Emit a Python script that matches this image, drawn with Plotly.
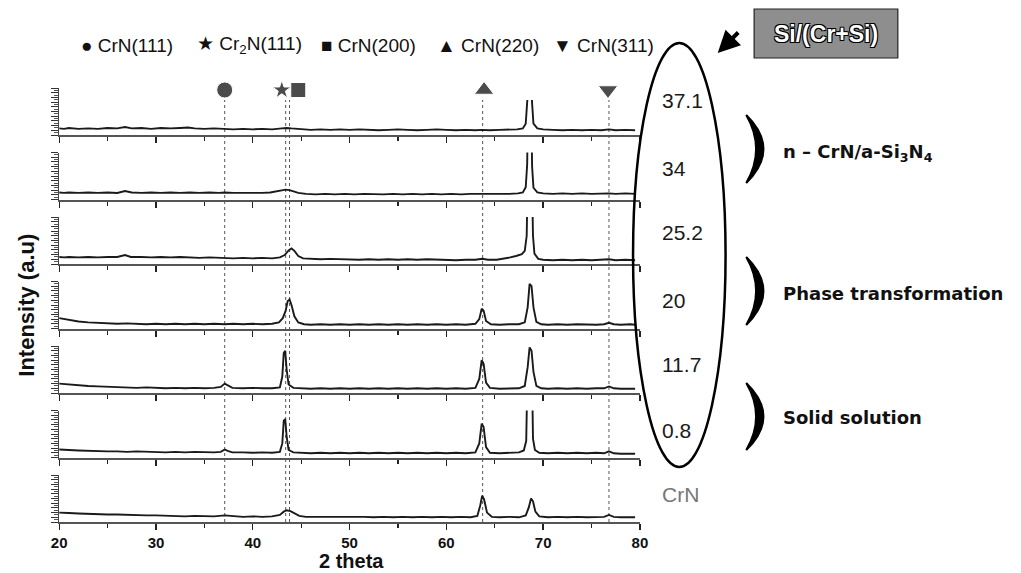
import plotly.graph_objects as go

W, H = 1021, 573

def px(x):
    return x / W

def py(y):
    return 1 - y / H

# ---------------- data ----------------
SAMPLE_LABELS = ["37.1", "34", "25.2", "20", "11.7", "0.8", "CrN"]

P1 = [(20,0.14),(20.5,0.13),(21,0.15),(22,0.13),(23,0.14),(24,0.13),(25,0.15),(26,0.14),(26.8,0.17),(27.5,0.14),
      (28.5,0.15),(29.5,0.13),(30.5,0.15),(31.5,0.14),(32.5,0.15),(33.3,0.16),(34,0.14),(35,0.13),(36,0.14),(37.1,0.13),
      (38,0.12),(39,0.13),(40,0.12),(41,0.13),(42,0.12),(43,0.14),(43.5,0.15),(44,0.14),(45,0.12),(46,0.11),(47,0.12),
      (48,0.11),(49,0.12),(50,0.11),(51,0.12),(52,0.11),(53,0.10),(54,0.11),(55,0.12),(56,0.11),(57,0.10),(58,0.11),
      (59,0.12),(60,0.11),(61,0.10),(62,0.11),(63,0.10),(63.7,0.11),(64.5,0.10),(65.5,0.11),(66.5,0.11),(67.3,0.12),
      (67.9,0.14),(68.2,0.24),(68.35,0.7),(68.42,1.8),(68.78,1.8),(68.85,0.7),(69.0,0.24),(69.4,0.14),(70,0.12),(71,0.11),
      (72,0.10),(73,0.11),(74,0.10),(75,0.11),(76,0.10),(76.8,0.12),(77.5,0.10),(78.5,0.11),(79.5,0.10)]

P2 = [(20,0.15),(20.5,0.14),(21,0.15),(22,0.14),(23,0.15),(24,0.14),(25,0.15),(26,0.14),(26.8,0.18),(27.5,0.15),
      (28.5,0.14),(29.5,0.15),(30.5,0.14),(31.5,0.15),(32.5,0.14),(33.5,0.15),(34.5,0.14),(35.5,0.15),(36.5,0.14),(37.1,0.15),
      (38,0.14),(39,0.14),(40,0.13),(41,0.14),(41.8,0.15),(42.5,0.17),(43.0,0.19),(43.4,0.21),(43.8,0.2),(44.2,0.17),
      (44.7,0.14),(45.5,0.12),(46.5,0.11),(47.5,0.12),(48.5,0.11),(49.5,0.12),(50.5,0.11),(51.5,0.12),(52.5,0.11),(53.5,0.11),
      (54.5,0.12),(55.5,0.11),(56.5,0.12),(57.5,0.11),(58.5,0.12),(59.5,0.11),(60.5,0.12),(61.5,0.11),(62.5,0.12),(63.7,0.12),
      (64.5,0.11),(65.5,0.12),(66.5,0.12),(67.4,0.13),(67.9,0.15),(68.2,0.26),(68.35,0.75),(68.42,1.8),(68.78,1.8),(68.86,0.7),
      (69.0,0.25),(69.4,0.15),(70,0.13),(71,0.12),(72,0.13),(73,0.12),(74,0.13),(75,0.12),(76,0.13),(76.8,0.13),
      (77.5,0.12),(78.5,0.13),(79.5,0.12)]

P3 = [(20,0.15),(20.5,0.14),(21,0.15),(22,0.14),(23,0.15),(24,0.14),(25,0.15),(26,0.15),(26.8,0.19),(27.4,0.15),
      (28.5,0.15),(29.5,0.14),(30.5,0.15),(31.5,0.14),(32.5,0.15),(33.5,0.14),(34.5,0.13),(35.5,0.14),(36.5,0.13),(37.1,0.13),
      (38,0.12),(39,0.13),(40,0.12),(41,0.13),(42,0.12),(42.8,0.14),(43.3,0.19),(43.7,0.29),(44.0,0.33),(44.3,0.28),
      (44.7,0.17),(45.2,0.12),(46,0.11),(47,0.10),(48,0.11),(49,0.10),(50,0.10),(51,0.09),(52,0.10),(53,0.09),
      (54,0.10),(55,0.09),(56,0.10),(57,0.09),(58,0.10),(59,0.09),(60,0.09),(61,0.08),(62,0.09),(63,0.09),
      (63.7,0.11),(64.3,0.09),(65.2,0.09),(66,0.11),(66.6,0.14),(67.2,0.17),(67.8,0.21),(68.1,0.28),(68.3,0.6),(68.4,1.8),
      (68.85,1.8),(68.95,0.6),(69.1,0.22),(69.5,0.11),(70,0.09),(71,0.08),(72,0.09),(73,0.08),(74,0.09),(75,0.08),
      (76,0.09),(76.8,0.10),(77.5,0.08),(78.5,0.09),(79.5,0.08)]

P4 = [(20,0.22),(20.5,0.20),(21,0.18),(21.5,0.17),(22,0.15),(23,0.13),(24,0.12),(25,0.11),(26,0.10),(27,0.11),
      (28,0.10),(29,0.09),(30,0.10),(31,0.09),(32,0.10),(33,0.09),(34,0.10),(35,0.09),(36,0.10),(37.1,0.09),
      (38,0.10),(39,0.09),(40,0.10),(41,0.09),(42,0.10),(42.7,0.13),(43.1,0.22),(43.4,0.38),(43.6,0.58),(43.8,0.62),
      (44.0,0.50),(44.3,0.26),(44.7,0.13),(45.3,0.09),(46,0.08),(47,0.09),(48,0.08),(49,0.09),(50,0.08),(51,0.09),
      (52,0.08),(53,0.09),(54,0.08),(55,0.09),(56,0.08),(57,0.09),(58,0.08),(59,0.09),(60,0.08),(61,0.09),
      (62,0.08),(63,0.10),(63.4,0.20),(63.65,0.42),(63.85,0.38),(64.1,0.16),(64.6,0.09),(65.5,0.08),(66.5,0.09),(67.5,0.09),
      (68.1,0.13),(68.4,0.45),(68.6,0.95),(68.8,0.90),(69.0,0.45),(69.3,0.14),(69.8,0.09),(70.5,0.08),(71.5,0.09),(72.5,0.08),
      (73.5,0.09),(74.5,0.08),(75.5,0.08),(76.3,0.09),(76.8,0.12),(77.3,0.09),(78,0.08),(79,0.09),(79.5,0.08)]

P5 = [(20,0.20),(20.5,0.19),(21,0.18),(22,0.16),(23,0.15),(24,0.14),(25,0.13),(26,0.12),(27,0.12),(28,0.11),
      (29,0.12),(30,0.11),(31,0.10),(32,0.11),(33,0.10),(34,0.11),(35,0.10),(36,0.11),(36.7,0.13),(37.1,0.20),
      (37.4,0.16),(37.9,0.11),(39,0.10),(40,0.11),(41,0.10),(42,0.10),(42.8,0.12),(43.05,0.35),(43.2,0.85),(43.35,0.90),
      (43.5,0.50),(43.7,0.18),(44.2,0.11),(45,0.10),(46,0.09),(47,0.10),(48,0.09),(49,0.10),(50,0.09),(51,0.10),
      (52,0.09),(53,0.10),(54,0.09),(55,0.10),(56,0.09),(57,0.10),(58,0.09),(59,0.10),(60,0.09),(61,0.10),
      (62,0.09),(63,0.11),(63.4,0.30),(63.65,0.70),(63.85,0.62),(64.1,0.22),(64.5,0.11),(65.5,0.09),(66.5,0.10),(67.5,0.10),
      (68.1,0.15),(68.4,0.55),(68.6,0.97),(68.8,0.90),(69.0,0.45),(69.3,0.15),(69.8,0.10),(70.5,0.09),(71.5,0.10),(72.5,0.09),
      (73.5,0.10),(74.5,0.09),(75.5,0.10),(76.3,0.10),(76.8,0.14),(77.3,0.10),(78,0.09),(79,0.10),(79.5,0.09)]

P6 = [(20,0.17),(20.5,0.16),(21,0.16),(22,0.15),(23,0.14),(24,0.14),(25,0.13),(26,0.13),(27,0.12),(28,0.13),
      (29,0.12),(30,0.12),(31,0.11),(32,0.12),(33,0.11),(34,0.12),(35,0.11),(36,0.11),(36.7,0.12),(37.1,0.17),
      (37.4,0.14),(37.9,0.11),(39,0.11),(40,0.10),(41,0.11),(42,0.10),(42.8,0.12),(43.05,0.30),(43.2,0.78),(43.35,0.82),
      (43.5,0.45),(43.7,0.16),(44.2,0.11),(45,0.10),(46,0.09),(47,0.10),(48,0.09),(49,0.10),(50,0.09),(51,0.10),
      (52,0.09),(53,0.10),(54,0.09),(55,0.10),(56,0.09),(57,0.10),(58,0.09),(59,0.10),(60,0.09),(61,0.10),
      (62,0.09),(63,0.11),(63.4,0.30),(63.65,0.72),(63.85,0.65),(64.1,0.22),(64.5,0.10),(65.5,0.09),(66.5,0.10),(67.5,0.11),
      (68.0,0.15),(68.25,0.35),(68.38,1.8),(68.85,1.8),(68.95,0.40),(69.15,0.16),(69.6,0.10),(70.5,0.09),(71.5,0.10),(72.5,0.09),
      (73.5,0.10),(74.5,0.09),(75.5,0.10),(76.3,0.09),(76.8,0.13),(77.3,0.09),(78,0.08),(79,0.09),(79.5,0.08)]

P7 = [(20,0.20),(20.5,0.19),(21,0.19),(22,0.18),(23,0.17),(24,0.17),(25,0.16),(26,0.16),(27,0.15),(28,0.15),
      (29,0.14),(30,0.14),(31,0.13),(32,0.13),(33,0.12),(34,0.13),(35,0.12),(36,0.12),(37.1,0.14),(38,0.12),
      (39,0.11),(40,0.12),(41,0.11),(42,0.12),(42.8,0.15),(43.2,0.22),(43.5,0.25),(43.9,0.23),(44.3,0.18),(44.8,0.13),
      (45.5,0.11),(46.5,0.11),(47.5,0.12),(48.5,0.11),(49.5,0.12),(50.5,0.11),(51.5,0.11),(52.5,0.10),(53.5,0.11),(54.5,0.10),
      (55.5,0.11),(56.5,0.10),(57.5,0.11),(58.5,0.10),(59.5,0.11),(60.5,0.10),(61.5,0.11),(62.5,0.10),(63.2,0.13),(63.5,0.35),
      (63.7,0.56),(63.9,0.48),(64.2,0.20),(64.7,0.11),(65.5,0.10),(66.5,0.11),(67.5,0.10),(68.2,0.14),(68.5,0.30),(68.75,0.50),
      (68.95,0.44),(69.2,0.22),(69.6,0.12),(70.5,0.10),(71.5,0.11),(72.5,0.10),(73.5,0.11),(74.5,0.10),(75.5,0.10),(76.3,0.11),
      (76.8,0.15),(77.3,0.11),(78,0.10),(79,0.11),(79.5,0.10)]

PATTERNS = [P1, P2, P3, P4, P5, P6, P7]

# reference peak positions (2 theta) and markers
PEAK_LINES = [37.1, 43.4, 43.8, 63.75, 76.8]
MARK_X = [37.1, 43.0, 44.7, 63.9, 76.7]
MARK_SYM = ["circle", "star", "square", "triangle-up", "triangle-down"]
MARK_SIZE = [16, 14, 15, 17, 17]

LEGEND_TEXT = ["● CrN(111)", "★ Cr<sub>2</sub>N(111)", "■ CrN(200)", "▲ CrN(220)", "▼ CrN(311)"]
LEGEND_X = [72, 190, 316, 434, 552]

REGIME_TEXT = ["n – CrN/a-Si<sub>3</sub>N<sub>4</sub>", "Phase transformation", "Solid solution"]
REGIME_Y = [153, 293, 417]
BRACKET_Y = [(115, 183), (257, 325), (383, 450)]

X_TICKS = [20, 30, 40, 50, 60, 70, 80]

# ---------------- layout geometry ----------------
X_LEFT, X_RIGHT = 52, 642
BASE0, PITCH, PH = 135, 64.5, 47
LABEL_Y = [100, 168, 232, 300, 364, 430, 494]

fig = go.Figure()
layout = dict(width=W, height=H, margin=dict(l=0, r=0, t=0, b=0),
              paper_bgcolor="white", plot_bgcolor="white", showlegend=False, hovermode=False)

for i, pat in enumerate(PATTERNS):
    n = i + 1
    xs = [p[0] for p in pat]
    ys = [p[1] for p in pat]
    fig.add_trace(go.Scatter(x=xs, y=ys, mode="lines",
                             line=dict(color="#1a1a1a", width=1.9),
                             xaxis=f"x{n}", yaxis=f"y{n}", hoverinfo="skip"))
    base = BASE0 + i * PITCH
    top = base - PH
    layout[f"xaxis{n}"] = dict(domain=[px(X_LEFT), px(X_RIGHT)], range=[20, 80], anchor=f"y{n}",
                               showline=True, linecolor="#555", linewidth=2, showgrid=False,
                               zeroline=False, ticks="outside", tickvals=X_TICKS, ticklen=6,
                               tickcolor="#222", tickwidth=1.3,
                               minor=dict(dtick=5, tick0=20, ticklen=4, ticks="outside", tickcolor="#222"),
                               showticklabels=(i == 6),
                               tickfont=dict(family="Liberation Sans, Arial", size=15, color="#111", weight="bold"))
    layout[f"yaxis{n}"] = dict(domain=[py(base), py(top)], range=[0, 1], anchor=f"x{n}",
                               showline=True, linecolor="#444", linewidth=1.2, showgrid=False,
                               zeroline=False, ticks="outside", dtick=0.1, tick0=0, ticklen=7,
                               tickcolor="#333", tickwidth=1,
                               minor=dict(dtick=0.05, ticklen=4, ticks="outside", tickcolor="#555"),
                               showticklabels=False)

# marker row
fig.add_trace(go.Scatter(x=MARK_X, y=[0.5] * len(MARK_X), mode="markers",
                         marker=dict(symbol=MARK_SYM, size=MARK_SIZE, color="black"),
                         xaxis="x8", yaxis="y8", hoverinfo="skip"))
layout["xaxis8"] = dict(domain=[px(X_LEFT), px(X_RIGHT)], range=[20, 80], anchor="y8", visible=False)
layout["yaxis8"] = dict(domain=[py(100), py(80)], range=[0, 1], anchor="x8", visible=False)

shapes = []
for xv in PEAK_LINES:
    shapes.append(dict(type="line", xref="x7", yref="paper", x0=xv, x1=xv,
                       y0=py(BASE0 + 6 * PITCH), y1=py(100),
                       line=dict(color="#555", width=1, dash="dot"), layer="below"))

# ellipse
shapes.append(dict(type="circle", xref="paper", yref="paper",
                   x0=px(635), x1=px(729), y0=py(467), y1=py(43),
                   line=dict(color="black", width=2.5)))

# brackets
for (y0, y1) in BRACKET_Y:
    ym = (y0 + y1) / 2
    path = (f"M {px(750)},{py(y0)} Q {px(785)},{py(ym)} {px(750)},{py(y1)} "
            f"Q {px(770)},{py(ym)} {px(750)},{py(y0)} Z")
    shapes.append(dict(type="path", xref="paper", yref="paper", path=path,
                       fillcolor="black", line=dict(color="black", width=2)))

# Si/(Cr+Si) box
shapes.append(dict(type="rect", xref="paper", yref="paper", x0=px(758), x1=px(904),
                   y0=py(58), y1=py(9), fillcolor="#8e8e8e", line=dict(color="#222", width=1.2)))

layout["shapes"] = shapes

ann = []
# legend
for t, x in zip(LEGEND_TEXT, LEGEND_X):
    ann.append(dict(text=t, x=px(x), y=py(45), xref="paper", yref="paper", xanchor="left",
                    yanchor="middle", showarrow=False,
                    font=dict(family="Liberation Sans, Arial", size=19, color="#111")))
# sample labels
for lab, y in zip(SAMPLE_LABELS, LABEL_Y):
    ann.append(dict(text=lab, x=px(662), y=py(y), xref="paper", yref="paper", xanchor="left",
                    yanchor="middle", showarrow=False,
                    font=dict(family="Liberation Sans, Arial", size=21,
                              color="#777" if lab == "CrN" else "#1a1a1a")))
# regime labels
for t, y in zip(REGIME_TEXT, REGIME_Y):
    ann.append(dict(text=t, x=px(785), y=py(y), xref="paper", yref="paper", xanchor="left",
                    yanchor="middle", showarrow=False,
                    font=dict(family="DejaVu Sans", size=18, color="#111", weight="bold")))
# box text
ann.append(dict(text="Si/(Cr+Si)", x=px(831), y=py(34), xref="paper", yref="paper",
                xanchor="center", yanchor="middle", showarrow=False,
                font=dict(family="Liberation Sans, Arial", size=23, color="white", weight="bold",
                          shadow="1px 1px 0 #000, -1px -1px 0 #000, 1px -1px 0 #000, -1px 1px 0 #000")))
# arrow
ann.append(dict(text="", x=px(721), y=py(53), xref="paper", yref="paper", ax=22, ay=-22,
                showarrow=True, arrowhead=2, arrowsize=1.1, arrowwidth=4, arrowcolor="black"))
# axis titles
ann.append(dict(text="Intensity (a.u)", x=px(18), y=py(305), xref="paper", yref="paper",
                textangle=-90, showarrow=False, xanchor="center", yanchor="middle",
                font=dict(family="Liberation Sans, Arial", size=22, color="#111", weight="bold")))
ann.append(dict(text="2 theta", x=px(349), y=py(561), xref="paper", yref="paper",
                showarrow=False, xanchor="center", yanchor="middle", borderpad=0,
                font=dict(family="Liberation Sans, Arial", size=20, color="#111", weight="bold")))
layout["annotations"] = ann

fig.update_layout(**layout)
fig.write_html("out.html", config={"displayModeBar": False, "staticPlot": True},
               post_script="document.body.style.margin='0';document.body.style.overflow='hidden';")
